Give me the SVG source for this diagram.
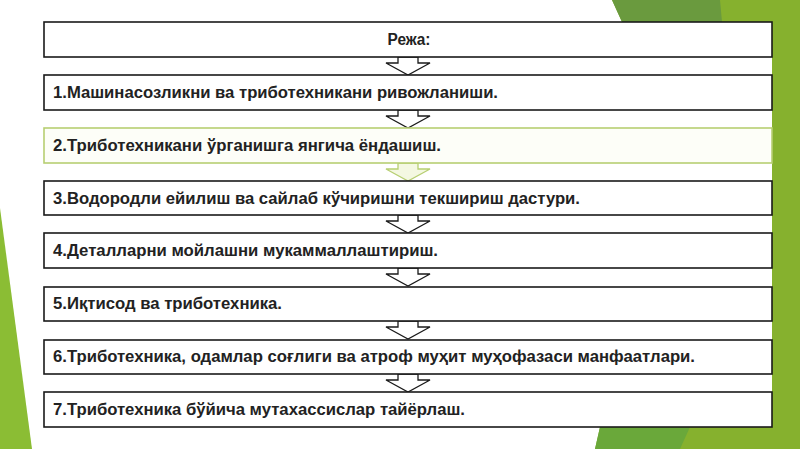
<svg xmlns="http://www.w3.org/2000/svg" width="800" height="449" viewBox="0 0 800 449">
<style>
.box{fill:#ffffff;stroke:#1a1a1a;stroke-width:1.6}
.boxg{fill:#fdfef8;stroke:#b7cf72;stroke-width:1.6}
.t{font-family:"Liberation Sans",Arial,sans-serif;font-weight:bold;font-size:16px;fill:#222}
.ar{fill:#ffffff;stroke:#1a1a1a;stroke-width:1.3}
.arg{fill:#f4f8e2;stroke:#b7cf72;stroke-width:1.3}
</style>
<defs>
<path id="arrow" d="M-10,0 L10,0 L10,6 L22,6 L0,18 L-22,6 L-10,6 Z"/>
</defs>
<rect width="800" height="449" fill="#ffffff"/>
<g id="background">
<polygon points="612,0 800,0 800,449 595,449 600,427 772,427 772,22 622,22" fill="#86b12e"/>
<polygon points="612,0 720,0 722,22 622,22" fill="#6a9a3e"/>
<polygon points="595,449 600,427 690,427 680,449" fill="#6aa83a"/>
<polygon points="0,208 32,449 0,449" fill="#8bbd34"/>
</g>
<g id="connectors">
<use href="#arrow" x="408" y="57" class="ar"/>
<use href="#arrow" x="408" y="110" class="ar"/>
<use href="#arrow" x="408" y="163" class="arg"/>
<use href="#arrow" x="408" y="215" class="ar"/>
<use href="#arrow" x="408" y="268" class="ar"/>
<use href="#arrow" x="408" y="321" class="ar"/>
<use href="#arrow" x="408" y="374" class="ar"/>
</g>
<g id="n0"><rect class="box" x="44" y="22" width="728" height="35"/><text class="t" x="409" y="45" text-anchor="middle" textLength="43" lengthAdjust="spacingAndGlyphs">Режа:</text></g>
<g id="n1"><rect class="box" x="44" y="75" width="728" height="35"/><text class="t" x="53" y="98" textLength="445" lengthAdjust="spacingAndGlyphs">1.Машинасозликни ва триботехникани ривожланиши.</text></g>
<g id="n2"><rect class="boxg" x="44" y="128" width="728" height="35"/><text class="t" x="53" y="151" textLength="388" lengthAdjust="spacingAndGlyphs">2.Триботехникани ўрганишга янгича ёндашиш.</text></g>
<g id="n3"><rect class="box" x="44" y="181" width="728" height="34"/><text class="t" x="53" y="204" textLength="527" lengthAdjust="spacingAndGlyphs">3.Водородли ейилиш ва сайлаб кўчиришни текшириш дастури.</text></g>
<g id="n4"><rect class="box" x="44" y="233" width="728" height="35"/><text class="t" x="53" y="256" textLength="385" lengthAdjust="spacingAndGlyphs">4.Деталларни мойлашни мукаммаллаштириш.</text></g>
<g id="n5"><rect class="box" x="44" y="287" width="728" height="34"/><text class="t" x="53" y="309" textLength="229" lengthAdjust="spacingAndGlyphs">5.Иқтисод ва триботехника.</text></g>
<g id="n6"><rect class="box" x="44" y="340" width="728" height="34"/><text class="t" x="53" y="362" textLength="642" lengthAdjust="spacingAndGlyphs">6.Триботехника, одамлар соғлиги ва атроф муҳит муҳофазаси манфаатлари.</text></g>
<g id="n7"><rect class="box" x="44" y="392" width="728" height="35"/><text class="t" x="53" y="415" textLength="412" lengthAdjust="spacingAndGlyphs">7.Триботехника бўйича мутахассислар тайёрлаш.</text></g>
</svg>
